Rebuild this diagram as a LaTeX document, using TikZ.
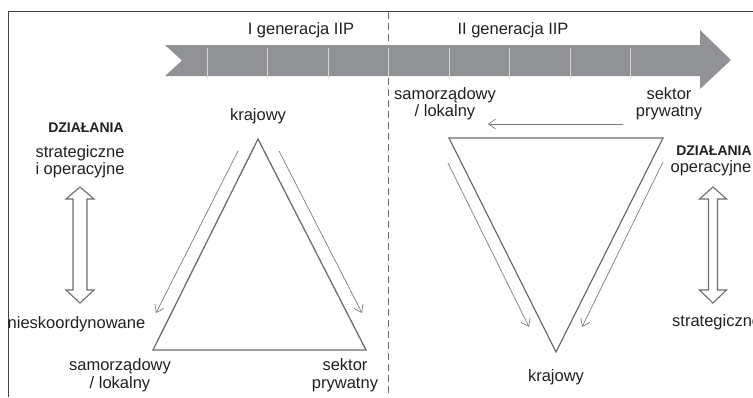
\documentclass[tikz,border=0pt]{standalone}
\usepackage{fontspec}
\setmainfont{Liberation Sans}
\usetikzlibrary{arrows.meta}

\definecolor{bandgray}{RGB}{145,146,149}
\definecolor{linegray}{RGB}{109,110,113}
\definecolor{tickgray}{RGB}{215,215,216}
\definecolor{textgray}{RGB}{35,31,32}

\begin{document}
\begin{tikzpicture}[x=1pt,y=-1pt,
  lbl/.style={inner sep=0pt,anchor=base,align=center,text=textgray,font=\fontsize{16.5}{17.5}\selectfont},
  head/.style={lbl,font=\bfseries\fontsize{14}{16}\selectfont},
  tri/.style={draw=linegray,line width=1.3pt},
  flow/.style={draw=linegray!90,line width=0.7pt,-{Straight Barb[length=7pt,width=10pt]}},
  updown/.style={draw=linegray,line width=1.1pt,fill=white}]
\useasboundingbox (0,0) rectangle (753,397);

\draw[textgray!85,line width=0.9pt] (753,11) -- (8,11) -- (8,397);
\draw[linegray,line width=0.8pt,dash pattern=on 7pt off 4pt] (388,12) -- (388,397);

\fill[bandgray] (165,45) -- (700,45) -- (700,30) -- (731,60) -- (700,89) -- (700,76) -- (165,76) -- (182,60.5) -- cycle;
\foreach \x in {207,267.5,328,388.5,449,509.5,570,630.5}
  \draw[tickgray,line width=0.8pt] (\x,48) -- (\x,78);

\node[lbl] (gen1) at (301,34.5) {I generacja IIP};
\node[lbl] (gen2) at (513,34.5) {II generacja IIP};

\coordinate (lk) at (258,139);
\coordinate (ls) at (153,350);
\coordinate (lp) at (366,350);
\draw[tri] (lk) -- (ls) -- (lp) -- cycle;
\coordinate (la1) at (238,151);
\coordinate (la2) at (156,313);
\coordinate (lb1) at (279,151);
\coordinate (lb2) at (362,313);
\draw[flow] (la1) -- (la2);
\draw[flow] (lb1) -- (lb2);

\coordinate (rs) at (449,138);
\coordinate (rp) at (663,138);
\coordinate (rk) at (556,352);
\draw[tri] (rs) -- (rp) -- (rk) -- cycle;
\coordinate (ra1) at (448,163);
\coordinate (ra2) at (529,327);
\coordinate (rb1) at (663,162);
\coordinate (rb2) at (582,327);
\coordinate (rc1) at (623,124);
\coordinate (rc2) at (488,124);
\draw[flow] (ra1) -- (ra2);
\draw[flow] (rb1) -- (rb2);
\draw[flow] (rc1) -- (rc2);

\foreach \cx/\sw/\hw in {80/7/14,713/4.5/13.5}
  \draw[updown] (\cx,187) -- (\cx+\hw,199) -- (\cx+\sw,199) -- (\cx+\sw,290) -- (\cx+\hw,290) -- (\cx,303)
    -- (\cx-\hw,290) -- (\cx-\sw,290) -- (\cx-\sw,199) -- (\cx-\hw,199) -- cycle;

\node[lbl] (krajL) at (258,120) {krajowy};
\node[head] (dzL) at (86,132) {DZIAŁANIA};
\node[lbl] (stL) at (80,174.5) {strategiczne\\i operacyjne};
\node[lbl] (niesk) at (76.5,328.5) {nieskoordynowane};
\node[lbl] (samL) at (120,388) {samorządowy\\/ lokalny};
\node[lbl] (sekL) at (345,388) {sektor\\prywatny};

\node[lbl] (samR) at (445,116.5) {samorządowy\\/ lokalny};
\node[lbl] (sekR) at (669,116.5) {sektor\\prywatny};
\node[head] (dzR) at (714,155) {DZIAŁANIA};
\node[lbl] (opR) at (711,172.5) {operacyjne};
\node[lbl,anchor=base west] (stR) at (672,326.5) {strategiczne};
\node[lbl] (krajR) at (556,381) {krajowy};

\end{tikzpicture}
\end{document}
